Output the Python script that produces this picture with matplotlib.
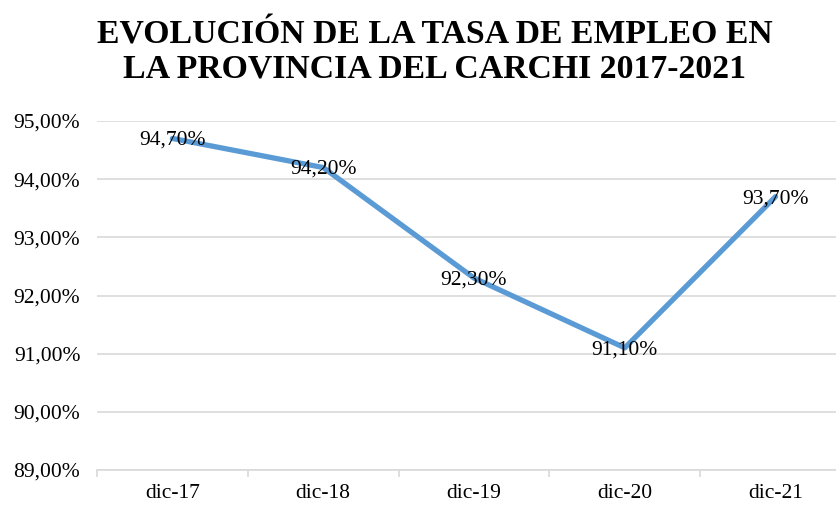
import matplotlib
matplotlib.use("Agg")
import matplotlib.pyplot as plt
from matplotlib.ticker import FixedLocator

categories = ["dic-17", "dic-18", "dic-19", "dic-20", "dic-21"]
values = [94.70, 94.20, 92.30, 91.10, 93.70]
labels = ["94,70%", "94,20%", "92,30%", "91,10%", "93,70%"]
yticks = [89, 90, 91, 92, 93, 94, 95]
ytick_labels = ["89,00%", "90,00%", "91,00%", "92,00%", "93,00%", "94,00%", "95,00%"]

plt.rcParams['font.family'] = ['Liberation Serif', 'DejaVu Serif']

fig = plt.figure(figsize=(8.37, 5.05), dpi=100)
ax = fig.add_axes([97/837, 1-470/505, 754/837, (470-121)/505])

fs = 15.5
x = list(range(len(categories)))
ax.plot(x, values, color="#5B9BD5", lw=3.8, solid_capstyle="round", solid_joinstyle="round", zorder=3)
for xi, v, lab in zip(x, values, labels):
    ax.annotate(lab, (xi, v), xytext=(0, -2), textcoords="offset pixels",
                ha="center", va="center", fontsize=fs, color="black", zorder=4)

ax.set_xlim(-0.5, 4.5)
ax.set_ylim(89, 95)
ax.set_yticks(yticks)
ax.set_yticklabels(ytick_labels, fontsize=fs)
ax.set_xticks(x)
ax.set_xticklabels(categories, fontsize=fs)
ax.xaxis.set_minor_locator(FixedLocator([i - 0.5 for i in range(len(categories) + 1)]))
ax.tick_params(axis="x", which="major", length=0, pad=10)
ax.tick_params(axis="x", which="minor", length=5, color="#D9D9D9", width=1.2)
ax.tick_params(axis="y", length=0, pad=12)
ax.grid(axis="y", color="#D9D9D9", lw=1.2, zorder=0)
for s in ["top", "right", "left"]:
    ax.spines[s].set_visible(False)
ax.spines["bottom"].set_color("#D9D9D9")
ax.spines["bottom"].set_linewidth(1.2)
ax.set_axisbelow(True)

title_lines = ["EVOLUCIÓN DE LA TASA DE EMPLEO EN", "LA PROVINCIA DEL CARCHI 2017-2021"]
fig.text(435/837, 1-44/505, title_lines[0], ha="center", va="baseline",
         fontsize=24.3, fontweight="bold")
fig.text(435/837, 1-77/505, title_lines[1], ha="center", va="baseline",
         fontsize=24.3, fontweight="bold")

fig.savefig("out.png", dpi=100)
